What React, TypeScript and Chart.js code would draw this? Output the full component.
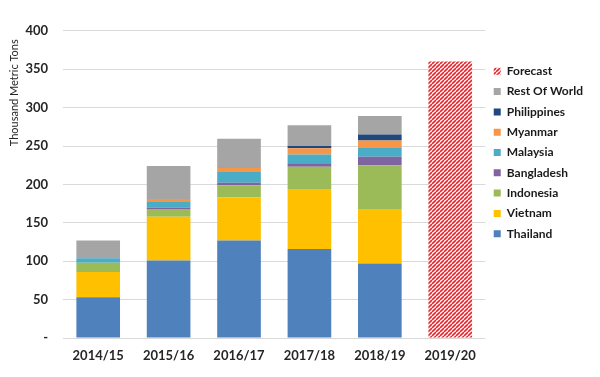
import React, { useEffect, useRef } from "react";
import { Chart, registerables } from "chart.js";

Chart.register(...registerables);

const categories = ["2014/15", "2015/16", "2016/17", "2017/18", "2018/19", "2019/20"];
const thailand = [53, 101, 127, 116, 97, null];
const vietnam = [33, 57, 56, 78, 70, null];
const indonesia = [12, 10, 16, 29, 58, null];
const bangladesh = [0, 2, 3, 4.5, 11, null];
const malaysia = [6, 8, 14, 11.5, 11.5, null];
const myanmar = [0, 3, 6, 8, 9.5, null];
const philippines = [0, 0, 0.5, 3, 8, null];
const restOfWorld = [23, 43, 37, 27, 24, null];
const forecast = [null, null, null, null, null, 360];

const yTicks = [0, 50, 100, 150, 200, 250, 300, 350, 400];

function makeStripePattern(): CanvasPattern | string {
  const s = 4;
  const c = document.createElement("canvas");
  c.width = s;
  c.height = s;
  const ctx = c.getContext("2d");
  if (!ctx) return "#e0282e";
  ctx.fillStyle = "#ffffff";
  ctx.fillRect(0, 0, s, s);
  ctx.strokeStyle = "#e0282e";
  ctx.lineWidth = 1.6;
  ctx.beginPath();
  for (const o of [-s, 0, s]) {
    ctx.moveTo(o, s);
    ctx.lineTo(o + s, 0);
  }
  ctx.stroke();
  const p = ctx.createPattern(c, "repeat");
  return p || "#e0282e";
}

export default function App() {
  const ref = useRef<HTMLCanvasElement | null>(null);

  useEffect(() => {
    if (!ref.current) return;
    const stripe = makeStripePattern();
    const font = "Lato, 'Open Sans', sans-serif";
    const ds = (label: string, data: (number | null)[], color: any) => ({
      label,
      data,
      backgroundColor: color,
      borderWidth: 0,
      barPercentage: 0.62,
      categoryPercentage: 1,
    });
    const chart = new Chart(ref.current, {
      type: "bar",
      data: {
        labels: categories,
        datasets: [
          ds("Thailand", thailand, "#4f81bd"),
          ds("Vietnam", vietnam, "#ffc000"),
          ds("Indonesia", indonesia, "#9bbb59"),
          ds("Bangladesh", bangladesh, "#8064a2"),
          ds("Malaysia", malaysia, "#4bacc6"),
          ds("Myanmar", myanmar, "#f79646"),
          ds("Philippines", philippines, "#1f497d"),
          ds("Rest Of World", restOfWorld, "#a5a5a5"),
          ds("Forecast", forecast, stripe),
        ],
      },
      options: {
        animation: false,
        responsive: true,
        maintainAspectRatio: false,
        layout: { padding: { top: 11, right: -1, left: 0, bottom: 0 } },
        plugins: {
          tooltip: { enabled: false },
          legend: {
            position: "right",
            align: "start",
            reverse: true,
            title: { display: true, text: "", font: { size: 10 }, padding: { top: 26, bottom: 0 } },
            labels: {
              boxWidth: 7,
              boxHeight: 7,
              padding: 8.3,
              color: "#1a1a1a",
              font: { family: font, size: 12, weight: "bold" },
            },
          },
        },
        scales: {
          x: {
            stacked: true,
            grid: { display: false, drawTicks: false },
            border: { display: false },
            ticks: {
              color: "#262626",
              padding: 10,
              font: { family: font, size: 13, weight: "bold" },
            },
            afterFit: (scale: any) => {
              scale.height = 31;
            },
          },
          y: {
            stacked: true,
            min: 0,
            max: 400,
            afterBuildTicks: (scale: any) => {
              scale.ticks = yTicks.map((v) => ({ value: v }));
            },
            grid: { color: "#d9d9d9", drawTicks: false, lineWidth: 1 },
            border: { display: false },
            ticks: {
              color: "#262626",
              padding: 15,
              font: { family: font, size: 13, weight: "bold" },
              callback: (v: any) => (Number(v) === 0 ? "-" : String(v)),
            },
            title: {
              display: true,
              align: "end",
              text: "Thousand Metric Tons   ",
              color: "#262626",
              font: { family: font, size: 11 },
              padding: { top: 0, bottom: 0 },
            },
            afterFit: (scale: any) => {
              scale.width = 55;
            },
          },
        },
      },
    });
    return () => chart.destroy();
  }, []);

  return (
    <div style={{ position: "relative", width: "584px", height: "361px" }}>
      <canvas ref={ref} />
    </div>
  );
}
